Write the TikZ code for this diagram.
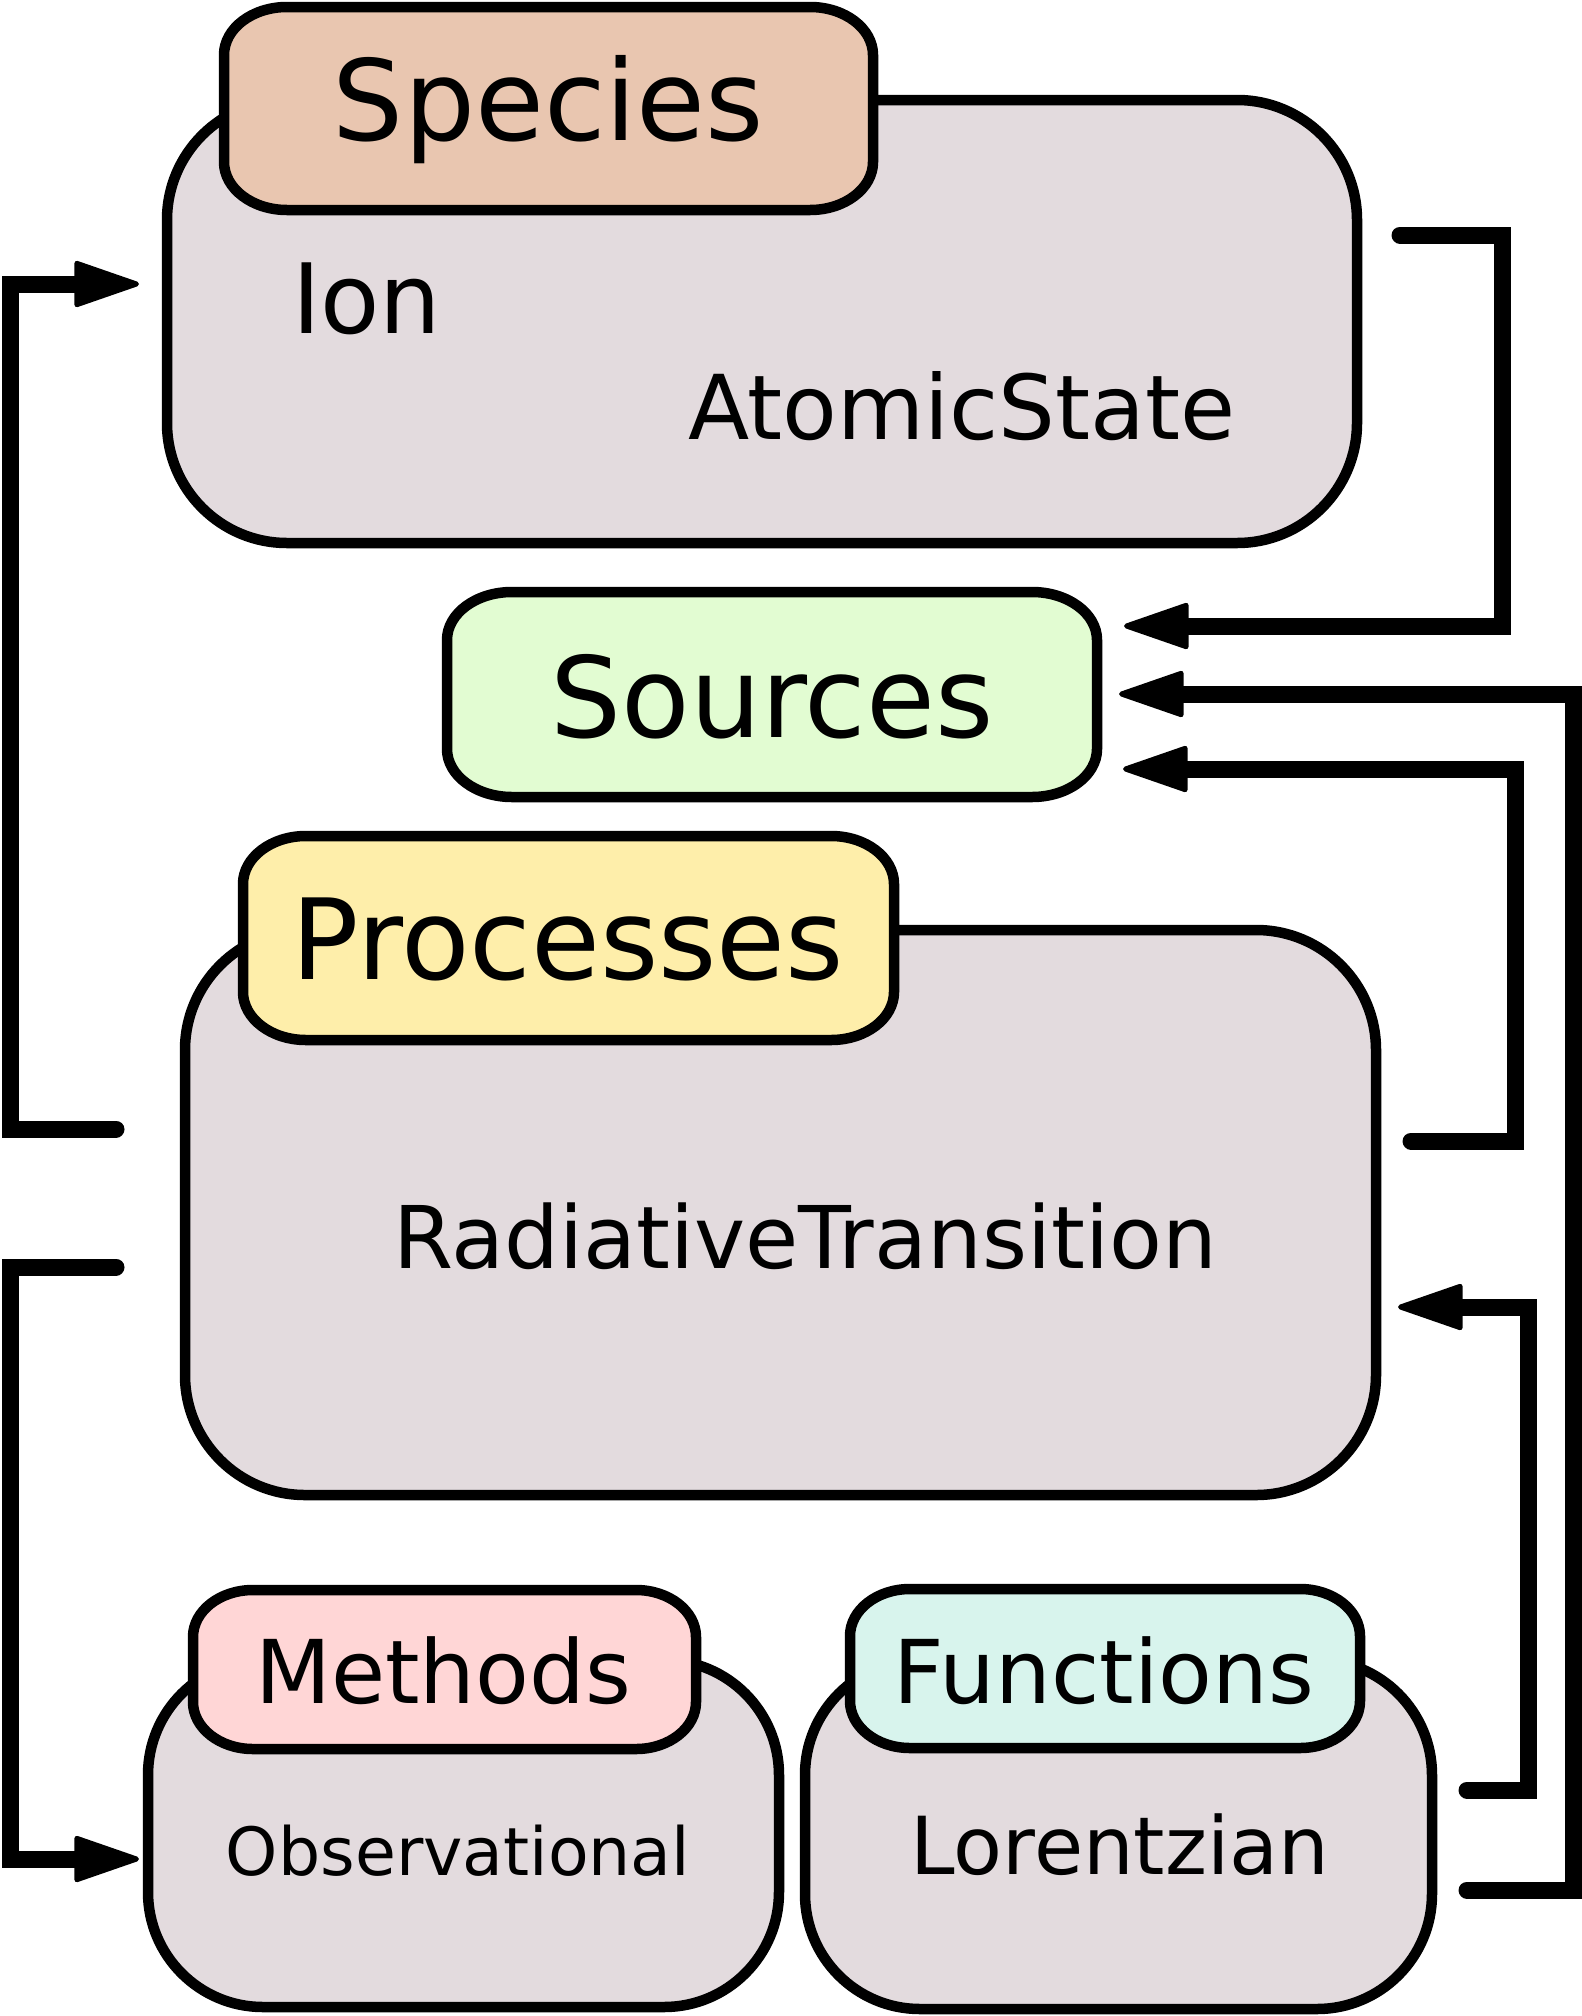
\documentclass[tikz,border=0pt]{standalone}
\usepackage{fontspec}
\setmainfont{DejaVu Sans}
\usetikzlibrary{arrows.meta}
\definecolor{mainfill}{HTML}{E3DBDE}
\definecolor{speciesfill}{HTML}{E9C6B0}
\definecolor{sourcesfill}{HTML}{E2FCD2}
\definecolor{processfill}{HTML}{FEEEAA}
\definecolor{methodsfill}{HTML}{FFD6D6}
\definecolor{functionsfill}{HTML}{D8F4ED}
\newcommand\fs[1]{\fontsize{#1pt}{#1pt}\selectfont}
% rectangle with elliptical corners: style, x1, y1, x2, y2, rx, ry
\newcommand\tabbox[7]{%
 \draw[#1] (#2+#6,#3) -- (#4-#6,#3)
   .. controls (#4-0.4477*#6,#3) and (#4,#3+0.4477*#7) .. (#4,#3+#7)
   -- (#4,#5-#7)
   .. controls (#4,#5-0.4477*#7) and (#4-0.4477*#6,#5) .. (#4-#6,#5)
   -- (#2+#6,#5)
   .. controls (#2+0.4477*#6,#5) and (#2,#5-0.4477*#7) .. (#2,#5-#7)
   -- (#2,#3+#7)
   .. controls (#2,#3+0.4477*#7) and (#2+0.4477*#6,#3) .. (#2+#6,#3) -- cycle;}
\tikzset{
  boxline/.style={draw=black, line width=10.5pt, line join=round},
  mainbox/.style={boxline, fill=mainfill, rectangle, inner sep=0pt, outer sep=0pt},
  conn/.style={draw=black, line width=17pt, line cap=round, line join=miter, miter limit=10},
  arr/.style={conn, -{Triangle[length=70pt,width=47pt,line width=5pt,round]}},
  lbl/.style={inner sep=0pt, outer sep=0pt, anchor=base, text=black},
}
\begin{document}
\begin{tikzpicture}[x=1pt,y=-1pt]
\useasboundingbox (0,0) rectangle (1582,2016);

% ---- Species
\node[mainbox, minimum width=1190pt, minimum height=443pt, rounded corners=120pt] (species) at (762,321.5) {};
\tabbox{boxline, fill=speciesfill}{224}{7}{873}{210}{63}{48}
\node[lbl, font=\fs{112}] (speciesT) at (548.5,140) {Species};
\node[lbl, anchor=base west, font=\fs{97}] (ion) at (292,333) {Ion};
\node[lbl, anchor=base west, font=\fs{89.5}] (atomic) at (688,439) {AtomicState};

% ---- Sources
\tabbox{boxline, fill=sourcesfill}{447}{592}{1097}{797}{65}{48}
\node[lbl, font=\fs{112}] (sources) at (772,737) {Sources};

% ---- Processes
\node[mainbox, minimum width=1191pt, minimum height=565pt, rounded corners=120pt] (processes) at (780.5,1212.5) {};
\tabbox{boxline, fill=processfill}{243}{836}{894}{1040}{63}{48}
\node[lbl, font=\fs{112}] (processesT) at (568,979) {Processes};
\node[lbl, anchor=base west, font=\fs{86.5}] (radiative) at (393,1268) {RadiativeTransition};

% ---- Methods
\node[mainbox, minimum width=631pt, minimum height=347pt, rounded corners=115pt] (methods) at (463.5,1833.5) {};
\tabbox{boxline, fill=methodsfill}{193}{1590}{696}{1749}{60}{47}
\node[lbl, font=\fs{88}] (methodsT) at (443,1703) {Methods};
\node[lbl, font=\fs{66.5}] (observational) at (458,1875) {Observational};

% ---- Functions
\node[mainbox, minimum width=627pt, minimum height=349pt, rounded corners=115pt] (functions) at (1118.5,1834.5) {};
\tabbox{boxline, fill=functionsfill}{850}{1589}{1360}{1748}{60}{47}
\node[lbl, font=\fs{88}] (functionsT) at (1104,1703) {Functions};
\node[lbl, font=\fs{80}] (lorentzian) at (1120,1874) {Lorentzian};

% ---- connector ends
\coordinate (pL1) at (116,1129);
\coordinate (pL2) at (116,1267);
\coordinate (spIn) at (139,284);
\coordinate (mIn) at (139,1859);
\coordinate (spR) at (1400,235);
\coordinate (srcIn1) at (1124,626);
\coordinate (srcIn2) at (1119,694);
\coordinate (srcIn3) at (1123,769);
\coordinate (prR) at (1411,1141);
\coordinate (prIn) at (1398,1307);
\coordinate (fnR1) at (1467,1790);
\coordinate (fnR2) at (1467,1890);

% ---- connectors
\draw[arr] (pL1) -- (10,1129) |- (spIn);
\draw[arr] (pL2) -- (10,1267) |- (mIn);
\draw[arr] (spR) -- (1502,235) |- (srcIn1);
\draw[arr] (fnR2) -- (1573.5,1890) |- (srcIn2);
\draw[arr] (prR) -- (1515,1141) |- (srcIn3);
\draw[arr] (fnR1) -- (1528,1790) |- (prIn);
\end{tikzpicture}
\end{document}
